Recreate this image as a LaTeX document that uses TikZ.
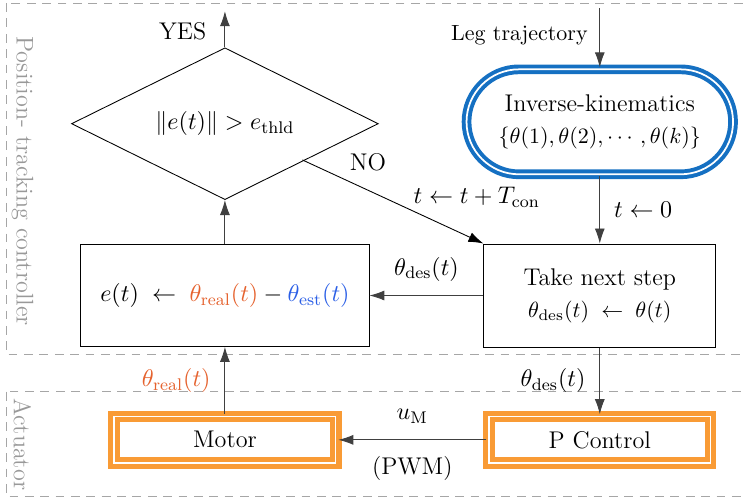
\documentclass[tikz,border=0pt]{standalone}
\usepackage{amsmath,amssymb}
\usepackage{tikz}
\usetikzlibrary{arrows.meta,positioning,shapes.geometric,shapes.misc}

\definecolor{boxorange}{HTML}{F99B35}
\definecolor{ikblue}{HTML}{1570C2}
\definecolor{realcol}{HTML}{E5622E}
\definecolor{estcol}{HTML}{2B5FE6}

\newcommand{\smalltext}{\fontsize{10}{12}\selectfont}

\tikzset{
    flowbox/.style={draw, rectangle, thin},
    actbox/.style={draw=boxorange, double=white, line width=2.3pt, double distance=0.6pt, rectangle, minimum width=3.55cm, minimum height=0.74cm},
    flowarrow/.style={-{Latex[length=2.4mm, width=1.6mm]}, draw=black!75},
    region/.style={draw=gray!70, dashed, dash pattern=on 4pt off 3pt},
    regionlabel/.style={text=gray!80, rotate=-90}
}

\begin{document}
\begin{tikzpicture}[font=\fontsize{11}{13.5}\selectfont]
    \clip (0, 0) rectangle (11.94, 8);
    \useasboundingbox (0, 0) rectangle (11.94, 8);

    % regions
    \draw[region] (0.11, 7.95) rectangle (12.3, 2.32);
    \draw[region] (0.11, 1.73) rectangle (12.3, 0.05);
    \node[regionlabel] (Lpos) at (0.36, 5.1) {Position- tracking controller};
    \node[regionlabel] (Lact) at (0.36, 0.89) {Actuator};

    % blocks
    \node (D) [draw, diamond, aspect=2, inner sep=0pt, minimum width=4.91cm, minimum height=2.43cm] at (3.6, 6.02) {$\lVert e(t)\rVert > e_{\text{thld}}$};
    \node (E) [flowbox, minimum width=4.61cm, minimum height=1.63cm] at (3.6, 3.27) {$e(t) \;\leftarrow\; {\color{realcol}\theta_{\text{real}}(t)} - {\color{estcol}\theta_{\text{est}}(t)}$};
    \node (IK) [draw=ikblue, double=white, line width=1.8pt, double distance=0.8pt, rounded rectangle, minimum width=4.5cm, minimum height=1.68cm, align=center] at (9.6, 6.05) {Inverse-kinematics\\[1pt] \smalltext $\{\theta(1),\theta(2),\cdots,\theta(k)\}$};
    \node (S) [flowbox, minimum width=3.71cm, minimum height=1.65cm, align=center] at (9.6, 3.27) {Take next step\\[1pt] \smalltext $\theta_{\text{des}}(t) \;\leftarrow\; \theta(t)$};
    \node (P) [actbox] at (9.6, 0.96) {P Control};
    \node (M) [actbox] at (3.6, 0.96) {Motor};

    \coordinate (Yend) at (3.6, 7.82);
    \coordinate (Lin) at (9.6, 7.87);

    % connectors
    \draw[flowarrow] (D.north) -- node[left=5pt, pos=0.45] {YES} (Yend);
    \draw[flowarrow] (E.north) -- (D.south);
    \draw[flowarrow] (Lin) -- node[left=2pt, pos=0.45] {\smalltext Leg trajectory} (IK.north);
    \draw[flowarrow] (IK.south) -- node[right=3pt] {$t \leftarrow 0$} (S.north);
    \draw[flowarrow] (S.west) -- node[above=3pt] {$\theta_{\text{des}}(t)$} (E.east);
    \draw[flowarrow, black] (4.84, 5.44) -- node[pos=0.22, above right=0pt and 0pt] {NO} node[pos=0.6, anchor=south west, inner sep=1pt] {$t \leftarrow t + T_{\text{con}}$} (S.north west);
    \draw[flowarrow] (S.south) -- node[left=3pt] {$\theta_{\text{des}}(t)$} (P.north);
    \draw[flowarrow] (P.west) -- node[above=4pt] {$u_{\text{M}}$} node[below=4pt] {(PWM)} (M.east);
    \draw[flowarrow] (M.north) -- node[left=3pt] {\color{realcol}$\theta_{\text{real}}(t)$} (E.south);
\end{tikzpicture}
\end{document}
